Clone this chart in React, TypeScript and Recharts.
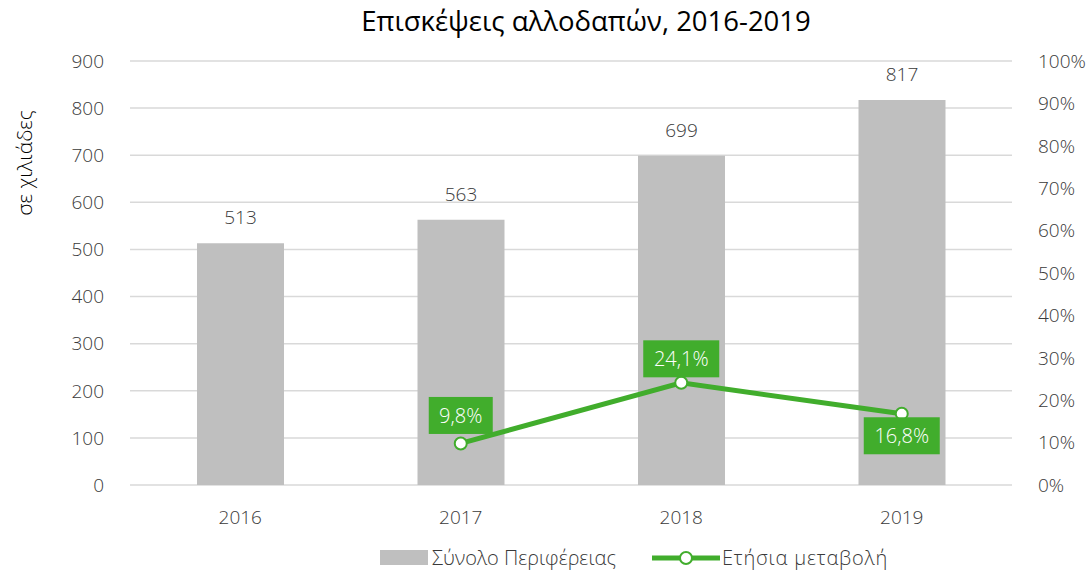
import {
  ComposedChart,
  Bar,
  Line,
  XAxis,
  YAxis,
  CartesianGrid,
  LabelList,
  Legend,
} from "recharts";

const years = ["2016", "2017", "2018", "2019"];
const totals = [513, 563, 699, 817];
const annualChange = [null, 9.8, 24.1, 16.8];
const leftTicks = [0, 100, 200, 300, 400, 500, 600, 700, 800, 900];
const rightTicks = [0, 10, 20, 30, 40, 50, 60, 70, 80, 90, 100];

const GREEN = "#41ad2c";
const BAR_GREY = "#bfbfbf";
const TEXT = "#3a3a3a";
const FONT = "'Open Sans', 'Noto Sans', sans-serif";
const W = 300;

const data = years.map((year, i) => ({
  year,
  total: totals[i],
  change: annualChange[i],
}));

const fmtPct = (v: number) => v.toFixed(1).replace(".", ",") + "%";

interface ChangeLabelProps {
  x?: number;
  y?: number;
  value?: number | null;
  index?: number;
}

const ChangeLabel = ({ x, y, value, index }: ChangeLabelProps) => {
  if (value == null || x == null || y == null) return null;
  const text = fmtPct(value);
  const w = text.length > 4 ? 76 : 64;
  const h = 37;
  // last point has its box below the marker
  const below = index === years.length - 1;
  const cy = below ? y + 22 : y - (index === 1 ? 28 : 24);
  return (
    <g>
      <rect x={x - w / 2} y={cy - h / 2} width={w} height={h} fill={GREEN} />
      <text
        x={x}
        y={cy}
        fill="#ffffff"
        fontSize={20}
        fontWeight={W}
        fontFamily={FONT}
        textAnchor="middle"
        dominantBaseline="central"
      >
        {text}
      </text>
    </g>
  );
};

const LegendContent = () => (
  <div
    style={{
      display: "flex",
      alignItems: "center",
      fontFamily: FONT,
      fontWeight: W,
      fontSize: 20,
      color: TEXT,
      paddingLeft: 380,
    }}
  >
    <div style={{ display: "flex", alignItems: "center" }}>
      <div style={{ width: 48, height: 15, background: BAR_GREY, marginRight: 4 }} />
      <span>Σύνολο Περιφέρειας</span>
    </div>
    <div style={{ display: "flex", alignItems: "center", marginLeft: 36 }}>
      <svg width={68} height={16}>
        <line x1={0} y1={8} x2={68} y2={8} stroke={GREEN} strokeWidth={5} />
        <circle cx={34} cy={8} r={6} fill="#fff" stroke={GREEN} strokeWidth={2} />
      </svg>
      <span style={{ marginLeft: 2, letterSpacing: 0.8 }}>Ετήσια μεταβολή</span>
    </div>
  </div>
);

export default function App() {
  return (
    <div style={{ position: "absolute", left: 0, top: 0, width: 1091, height: 573, background: "#fff" }}>
      <div
        style={{
          position: "absolute",
          top: 2,
          left: 0,
          width: 1172,
          textAlign: "center",
          fontFamily: FONT,
          fontSize: 27.5,
          color: "#000",
        }}
      >
        Επισκέψεις αλλοδαπών, 2016-2019
      </div>
      <ComposedChart
        width={1091}
        height={573}
        data={data}
        margin={{ top: 61, right: 0, bottom: 21, left: 0 }}
        barCategoryGap={0}
      >
        <CartesianGrid vertical={false} stroke="#d9d9d9" strokeWidth={1.5} yAxisId="left" />
        <XAxis
          dataKey="year"
          axisLine={false}
          tickLine={false}
          height={40}
          tick={{ fill: TEXT, fontSize: 19, fontWeight: W, fontFamily: FONT }}
          tickMargin={20}
        />
        <YAxis
          yAxisId="left"
          domain={[0, 900]}
          ticks={leftTicks}
          width={130}
          axisLine={false}
          tickLine={false}
          tickMargin={20}
          tick={{ fill: TEXT, fontSize: 19, fontWeight: W, fontFamily: FONT }}
          label={{
            content: () => (
              <text
                x={0}
                y={0}
                transform="translate(32,163) rotate(-90)"
                textAnchor="middle"
                fill="#000"
                fontSize={21}
                fontWeight={W}
                fontFamily={FONT}
              >
                σε χιλιάδες
              </text>
            ),
          }}
        />
        <YAxis
          yAxisId="right"
          orientation="right"
          domain={[0, 100]}
          ticks={rightTicks}
          width={79}
          axisLine={false}
          tickLine={false}
          tickMargin={20}
          tickFormatter={(v: number) => `${v}%`}
          tick={{ fill: TEXT, fontSize: 19, fontWeight: W, fontFamily: FONT }}
        />
        <Bar
          yAxisId="left"
          dataKey="total"
          fill={BAR_GREY}
          barSize={87}
          isAnimationActive={false}
        >
          <LabelList
            dataKey="total"
            position="top"
            offset={19}
            fill={TEXT}
            fontSize={19}
            fontWeight={W}
            fontFamily={FONT}
          />
        </Bar>
        <Line
          yAxisId="right"
          dataKey="change"
          stroke={GREEN}
          strokeWidth={5}
          dot={{ r: 6, fill: "#fff", stroke: GREEN, strokeWidth: 2 }}
          activeDot={false}
          isAnimationActive={false}
        >
          <LabelList dataKey="change" content={(p: any) => <ChangeLabel {...p} />} />
        </Line>
        <Legend
          verticalAlign="bottom"
          content={() => <LegendContent />}
          wrapperStyle={{ top: 544, bottom: "auto", left: 0, width: 1091 }}
        />
      </ComposedChart>
    </div>
  );
}
